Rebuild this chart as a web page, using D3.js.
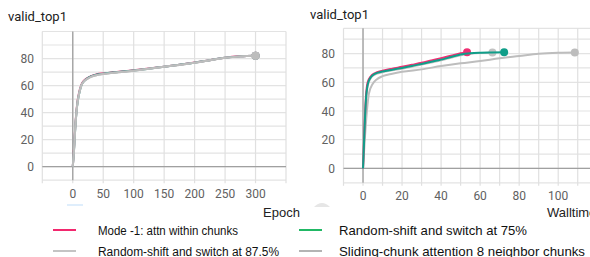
<!DOCTYPE html>
<html><head><meta charset="utf-8">
<script src="https://cdn.jsdelivr.net/npm/d3@7"></script>
<style>
html,body{margin:0;padding:0;background:#fff;}
svg{display:block;}
</style></head>
<body>
<svg id="c" width="590" height="257"></svg>
<script>
// ---------- data ----------
const seriesNames = ["Mode -1: attn within chunks", "Random-shift and switch at 75%", "Random-shift and switch at 87.5%", "Sliding-chunk attention 8 neighbor chunks"];
const seriesColors = ["#ef2f73", "#109e89", "#c2c2c2", "#bdbdbd"];
const legendColors = ["#f2286e", "#21b865", "#c4c4c4", "#b4b4b4"];

// Epoch chart (x = epoch)
const epochX = [0, 2, 3, 4, 6, 8, 10, 14, 18, 24, 30, 40, 50, 75, 100, 125, 150, 175, 200, 225, 250, 275, 300];
const epochMode = [0, 13, 21, 29, 41, 49, 54, 60.5, 63.5, 65.5, 67, 68.4, 69, 70.2, 71.3, 72.6, 74, 75.4, 77, 78.8, 80.6, 81.6, 82];
const epochR75 = [0, 12, 20, 28, 40, 48, 53, 60, 63, 65.3, 66.8, 68.2, 68.8, 70, 71.2, 72.5, 74, 75.4, 76.9, 78.8, 80.5, 81.6, 82];
const epochR875 = [0, 12, 20, 28, 40, 48, 53, 60, 63, 65, 66.5, 67.8, 68.5, 69.8, 71, 72.4, 73.9, 75.3, 76.8, 78.7, 80.5, 81.6, 82];
const epochSlide = [0, 12, 20, 28, 40, 48, 53, 60, 63, 65, 66.5, 67.8, 68.5, 69.8, 71, 72.4, 73.9, 75.3, 76.8, 78.7, 80.5, 81.6, 82];

// Walltime chart
const wtModeX = [0, 0.8, 1.5, 2.4, 3.9, 6, 10, 15, 20, 25, 30, 35, 40, 45, 50, 53.3];
const wtModeY = [0, 30, 50, 60, 64, 66.3, 68, 69.5, 70.8, 72.2, 73.6, 75.2, 76.8, 78.5, 80.2, 81];
const wtR75X = [0, 0.8, 1.5, 2.5, 4, 6, 10, 15, 20, 25, 30, 35, 40, 45, 50, 55, 60, 66, 72.3];
const wtR75Y = [0, 28, 48, 59, 63.5, 65.8, 67.5, 68.8, 70, 71.3, 72.8, 74.3, 75.8, 77.6, 79.3, 80.2, 80.6, 80.8, 80.9];
const wtR875X = [0, 0.8, 1.5, 2.5, 4, 6, 10, 15, 20, 25, 30, 35, 40, 45, 50, 55, 60, 66.3];
const wtR875Y = [0, 27, 47, 58, 63, 65.3, 67, 68.3, 69.5, 70.8, 72.3, 73.8, 75.3, 77.1, 78.8, 79.9, 80.4, 80.8];
const wtSlideX = [0, 1, 2, 3, 5, 7, 10, 15, 20, 30, 40, 50, 60, 70, 80, 90, 100, 108.5];
const wtSlideY = [0, 22, 40, 52, 59, 62, 64.3, 66, 67.3, 69, 71.3, 73.2, 74.8, 76.7, 78.3, 79.9, 80.6, 80.8];

const epochTicks = [0, 50, 100, 150, 200, 250, 300];
const epochGrid = [-50, 0, 50, 100, 150, 200, 250, 300, 350];
const wallTicks = [0, 20, 40, 60, 80, 100];
const wallGrid = [-10, 0, 10, 20, 30, 40, 50, 60, 70, 80, 90, 100, 110, 120];
const yTicks = [0, 20, 40, 60, 80];
const yGrid = [-10, 0, 10, 20, 30, 40, 50, 60, 70, 80, 90, 100];

const svg = d3.select("#c");
const font = "Roboto, 'Liberation Sans', Arial, sans-serif";

function drawChart(opt) {
  const x = d3.scaleLinear().domain(opt.xDomain).range(opt.xRange);
  const y = d3.scaleLinear().domain(opt.yDomain).range(opt.yRange);
  const g = svg.append("g");
  const [x0, x1] = opt.xRange, [yb, yt] = opt.yRange;
  g.append("text").attr("x", opt.titleX).attr("y", opt.titleY)
    .attr("font-family", font).attr("font-size", 13).attr("fill", "#212121").text("valid_top1");
  g.selectAll("line.hg").data(yGrid.filter(v => y(v) >= yt - 0.5 && y(v) <= yb + 0.5)).enter().append("line")
    .attr("x1", x0).attr("x2", x1).attr("y1", d => y(d)).attr("y2", d => y(d))
    .attr("stroke", "#e3e3e3").attr("stroke-width", 1.2);
  g.append("line").attr("x1", x0).attr("x2", x1).attr("y1", yt).attr("y2", yt)
    .attr("stroke", "#e3e3e3").attr("stroke-width", 1.2);
  g.selectAll("line.vg").data(opt.xGrid.filter(v => x(v) >= x0 - 0.5 && x(v) <= x1 + 0.5)).enter().append("line")
    .attr("x1", d => x(d)).attr("x2", d => x(d)).attr("y1", yt).attr("y2", yb + 3)
    .attr("stroke", "#e0e0e0").attr("stroke-width", 1.2);
  g.append("line").attr("x1", x0).attr("x2", x1).attr("y1", y(0)).attr("y2", y(0))
    .attr("stroke", "#a0a0a0").attr("stroke-width", 1.3);
  g.append("line").attr("x1", x(0)).attr("x2", x(0)).attr("y1", yt).attr("y2", yb)
    .attr("stroke", "#a0a0a0").attr("stroke-width", 1.3);
  g.selectAll("text.yl").data(yTicks).enter().append("text")
    .attr("x", opt.yLabelX).attr("y", d => y(d) + 4.5).attr("text-anchor", "end")
    .attr("font-family", font).attr("font-size", 12).attr("fill", "#616161").text(d => d);
  g.selectAll("text.xl").data(opt.xTicks).enter().append("text")
    .attr("x", d => x(d)).attr("y", opt.xLabelY).attr("text-anchor", "middle")
    .attr("font-family", font).attr("font-size", 12).attr("fill", "#616161").text(d => d);
  g.append("text").attr("x", opt.axisTitleX).attr("y", 217)
    .attr("font-family", "'Liberation Sans', Arial, sans-serif").attr("font-size", 13).attr("fill", "#222").text(opt.axisTitle);
  const line = d3.line().x(d => x(d[0])).y(d => y(d[1])).curve(d3.curveMonotoneX);
  opt.series.forEach(s => {
    const pts = s.xs.map((v, i) => [v, s.ys[i]]);
    g.append("path").attr("d", line(pts)).attr("fill", "none")
      .attr("stroke", s.color).attr("stroke-width", 2).attr("stroke-linejoin", "round");
    const last = pts[pts.length - 1];
    g.append("circle").attr("cx", x(last[0])).attr("cy", y(last[1])).attr("r", 4).attr("fill", s.color);
  });
}

drawChart({
  xDomain: [-50, 350], xRange: [42.3, 286],
  yDomain: [-10, 100], yRange: [180.2, 31.5],
  xGrid: epochGrid, xTicks: epochTicks,
  titleX: 8, titleY: 21, yLabelX: 34, xLabelY: 198,
  axisTitle: "Epoch", axisTitleX: 263,
  series: [
    { xs: epochX, ys: epochMode, color: seriesColors[0] },
    { xs: epochX, ys: epochR75, color: seriesColors[1] },
    { xs: epochX, ys: epochR875, color: seriesColors[2] },
    { xs: epochX, ys: epochSlide, color: seriesColors[3] }
  ]
});

drawChart({
  xDomain: [-10, 125], xRange: [343.5, 607],
  yDomain: [-10, 97.6], yRange: [182.8, 28.3],
  xGrid: wallGrid, xTicks: wallTicks,
  titleX: 310, titleY: 18.5, yLabelX: 335, xLabelY: 200,
  axisTitle: "Walltime", axisTitleX: 547,
  series: [
    { xs: wtSlideX, ys: wtSlideY, color: seriesColors[3] },
    { xs: wtR875X, ys: wtR875Y, color: seriesColors[2] },
    { xs: wtModeX, ys: wtModeY, color: seriesColors[0] },
    { xs: wtR75X, ys: wtR75Y, color: seriesColors[1] }
  ]
});

// faint artifacts
svg.append("line").attr("x1", 67).attr("x2", 83).attr("y1", 205).attr("y2", 205).attr("stroke", "#d4e9fb").attr("stroke-width", 1.5);
svg.append("path").attr("d", "M314,207 Q322,199 330,207 Z").attr("fill", "#e6e6e6");

// legend
const legendPos = [[53, 98, 230, 140, 12], [299, 339, 230, 188, 13], [53, 98, 251, 181, 12], [299, 339, 251, 246, 13]];
const leg = svg.append("g");
seriesNames.forEach((n, i) => {
  const [lx, tx, ly, tw, fs] = legendPos[i];
  leg.append("line").attr("x1", lx).attr("x2", lx + 23).attr("y1", ly).attr("y2", ly)
    .attr("stroke", legendColors[i]).attr("stroke-width", 2);
  leg.append("text").attr("x", tx).attr("y", ly + 4.5)
    .attr("font-family", "'Liberation Sans', Arial, sans-serif").attr("font-size", fs)
    .attr("fill", "#111").attr("textLength", tw).attr("lengthAdjust", "spacingAndGlyphs").text(n);
});
</script>
</body></html>
